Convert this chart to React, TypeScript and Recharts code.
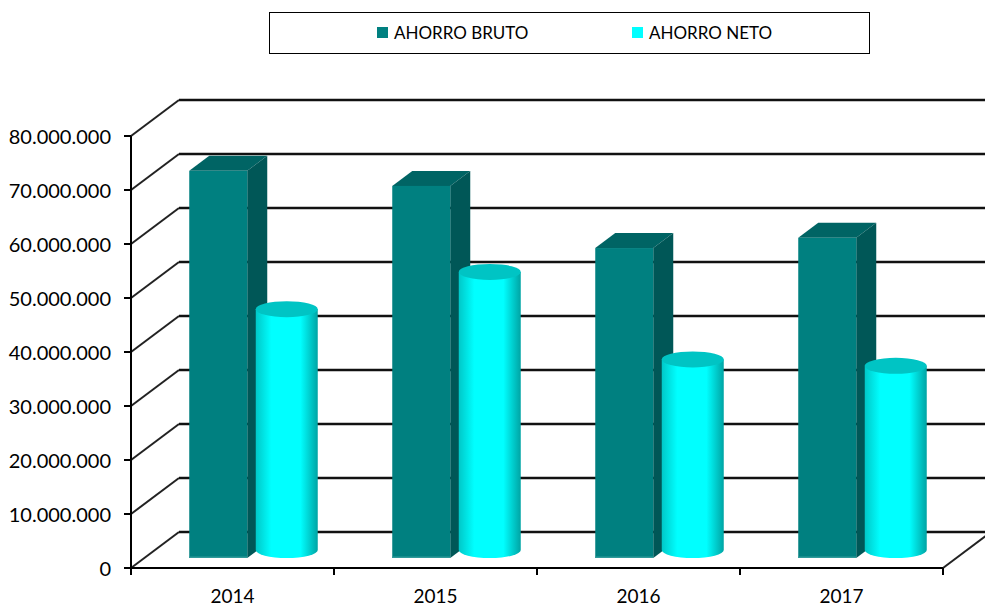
import React from "react";
import { ComposedChart, Bar, XAxis, YAxis, CartesianGrid, Legend } from "recharts";

const years = ["2014", "2015", "2016", "2017"];
const ahorroBruto = [71700000, 68900000, 57400000, 59300000];
const ahorroNeto = [44600000, 51500000, 35300000, 34100000];
const yTicks = [0, 10000000, 20000000, 30000000, 40000000, 50000000, 60000000, 70000000, 80000000];
const edgeTicks = [0, 0.75, 1.5, 2.25, 3];

const rows = years.map((year, i) => ({ year, bruto: ahorroBruto[i], neto: ahorroNeto[i] }));

const FONT = "Lato, 'Liberation Sans', sans-serif";
const DEPTH_X = 48;
const DEPTH_Y = 36;

const fmt = (v: number) => String(v).replace(/\B(?=(\d{3})+(?!\d))/g, ".");

const WallLine = (p: any) => {
  const { x1, x2, y1, index } = p;
  const back = y1 - DEPTH_Y;
  const isFloor = y1 > 550;
  return (
    <g key={`wall-${index}`}>
      <path d={`M${x1} ${y1}L${x1 + DEPTH_X} ${back}`} fill="none" stroke="#222" strokeWidth={2} />
      <path d={`M${x1 + DEPTH_X} ${back}L${x2 + DEPTH_X} ${back}`} fill="none" stroke="#111" strokeWidth={2.5} />
      {isFloor && <path d={`M${x2} ${y1}L${x2 + DEPTH_X} ${back}`} fill="none" stroke="#222" strokeWidth={2} />}
    </g>
  );
};

const BoxBar = (p: any) => {
  const { x, y, width, height } = p;
  const cx = x + width / 2 + 20.25;
  const w = 58;
  const l = cx - w / 2;
  const r = cx + w / 2;
  const top = y - 10;
  const bot = y + height - 10;
  const dx = 20;
  const dy = 15;
  return (
    <g>
      <polygon points={`${l},${top} ${l + dx},${top - dy} ${r + dx},${top - dy} ${r},${top}`} fill="#006464" />
      <polygon points={`${r},${top} ${r + dx},${top - dy} ${r + dx},${bot - dy} ${r},${bot}`} fill="#005757" />
      <rect x={l} y={top} width={w} height={bot - top} fill="#008080" />
      <rect x={l} y={bot - 1.5} width={w} height={1.5} fill="#2f9a9a" />
    </g>
  );
};

const CylBar = (p: any) => {
  const { x, y, width, height, index } = p;
  const cx = x + width / 2 + 20.25;
  const rx = 31;
  const ry = 8;
  const top = y - 18;
  const bot = y + height - 18;
  const id = `cyl-${index}`;
  return (
    <g>
      <defs>
        <linearGradient id={id} x1="0" y1="0" x2="1" y2="0">
          <stop offset="0" stopColor="#00c8c8" />
          <stop offset="0.25" stopColor="#00ffff" />
          <stop offset="0.72" stopColor="#00ffff" />
          <stop offset="1" stopColor="#00a4a4" />
        </linearGradient>
      </defs>
      <path
        d={`M${cx - rx} ${top}L${cx - rx} ${bot}A${rx} ${ry} 0 0 0 ${cx + rx} ${bot}L${cx + rx} ${top}Z`}
        fill={`url(#${id})`}
      />
      <ellipse cx={cx} cy={top} rx={rx} ry={ry} fill="#00c4c4" />
    </g>
  );
};

const LegendBox = ({ payload }: any) => (
  <div
    style={{
      boxSizing: "border-box",
      width: 601,
      height: 42,
      border: "1.5px solid #000",
      background: "#fff",
      position: "relative",
      fontFamily: FONT,
      fontSize: 17,
      color: "#000",
    }}
  >
    {(payload || []).map((e: any, i: number) => (
      <div key={e.value} style={{ position: "absolute", left: i === 0 ? 107 : 362, top: 0, height: 39, display: "flex", alignItems: "center", whiteSpace: "nowrap" }}>
        <span style={{ display: "inline-block", width: 11, height: 11, background: e.color, marginRight: 6 }} />
        <span>{e.value}</span>
      </div>
    ))}
  </div>
);

const NoLabel = () => <g />;

export default function App() {
  return (
    <div style={{ position: "absolute", left: 0, top: 0, width: 985, height: 606, background: "#fff" }}>
      <ComposedChart
        width={985}
        height={606}
        data={rows}
        margin={{ top: 136, right: 42, bottom: 0, left: 0 }}
        barSize={60}
        barGap={8.5}
        style={{ fontFamily: FONT }}
      >
        <CartesianGrid xAxisId="zcat" vertical={false} horizontal={WallLine as any} />
        <XAxis
          xAxisId="aedge"
          type="number"
          domain={[0, 3]}
          ticks={edgeTicks}
          interval={0}
          tick={NoLabel as any}
          height={1}
          tickSize={7}
          stroke="#000"
          strokeWidth={2}
        />
        <XAxis
          xAxisId="zcat"
          dataKey="year"
          height={37}
          tickLine={false}
          axisLine={false}
          tickMargin={15}
          tick={{ fill: "#000", fontSize: 19, fontFamily: FONT }}
        />
        <YAxis
          width={131}
          domain={[0, 80000000]}
          ticks={yTicks}
          interval={0}
          tickFormatter={fmt}
          tickSize={7}
          tickMargin={13}
          stroke="#000"
          strokeWidth={2}
          tick={{ fill: "#000", fontSize: 20, fontFamily: FONT, strokeWidth: 0, dy: 1 }}
        />
        <Legend
          verticalAlign="middle"
          align="center"
          layout="horizontal"
          content={LegendBox as any}
          wrapperStyle={{ left: 269, top: 12, width: 601, height: 42 }}
        />
        <Bar xAxisId="zcat" dataKey="bruto" name="AHORRO BRUTO" fill="#008080" shape={BoxBar as any} isAnimationActive={false} />
        <Bar xAxisId="zcat" dataKey="neto" name="AHORRO NETO" fill="#00ffff" shape={CylBar as any} isAnimationActive={false} />
      </ComposedChart>
    </div>
  );
}
